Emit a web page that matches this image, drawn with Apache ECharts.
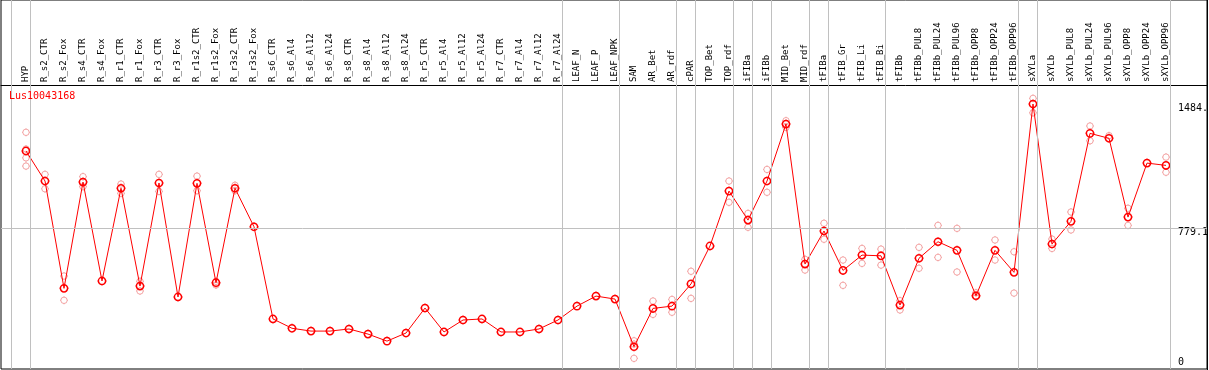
<!DOCTYPE html>
<html>
<head>
<meta charset="utf-8">
<script src="https://cdn.jsdelivr.net/npm/echarts@6/dist/echarts.min.js"></script>
<style>
html,body{margin:0;padding:0;background:#fff;}
#c{width:1209px;height:370px;}
</style>
</head>
<body>
<div id="c"></div>
<script>
const categories = ["HYP","R_s2_CTR","R_s2_Fox","R_s4_CTR","R_s4_Fox","R_r1_CTR","R_r1_Fox","R_r3_CTR","R_r3_Fox","R_r1s2_CTR","R_r1s2_Fox","R_r3s2_CTR","R_r3s2_Fox","R_s6_CTR","R_s6_Al4","R_s6_Al12","R_s6_Al24","R_s8_CTR","R_s8_Al4","R_s8_Al12","R_s8_Al24","R_r5_CTR","R_r5_Al4","R_r5_Al12","R_r5_Al24","R_r7_CTR","R_r7_Al4","R_r7_Al12","R_r7_Al24","LEAF_N","LEAF_P","LEAF_NPK","SAM","AR_Bet","AR_rdf","cPAR","TOP_Bet","TOP_rdf","iFIBa","iFIBb","MID_Bet","MID_rdf","tFIBa","tFIB_Gr","tFIB_Li","tFIB_Bi","tFIBb","tFIBb_PUL8","tFIBb_PUL24","tFIBb_PUL96","tFIBb_OPP8","tFIBb_OPP24","tFIBb_OPP96","sXYLa","sXYLb","sXYLb_PUL8","sXYLb_PUL24","sXYLb_PUL96","sXYLb_OPP8","sXYLb_OPP24","sXYLb_OPP96"];

const means = [1217,1046,436,1040,478,1005,449,1035,387,1033,468,1005,786,262,209,193,193,205,176,136,182,324,188,256,262,188,188,205,256,335,392,375,104,322,335,461,677,989,824,1046,1370,574,762,538,625,621,341,607,701,652,394,652,527,1484,688,817,1317,1289,841,1148,1135];

const replicates = [
  [1323,1228,1178,1131],[1084,1002],[506,368],[1071,1014],[],[1029,976],[476,421],[1084,987],[],[1074,991],
  [476,455],[1022,991],[],[],[],[],[],[],[],[],
  [],[],[],[],[],[],[],[],[],[],
  [],[],[138,119,38],[364,288],[373,300],[533,379],[],[1046,925],[862,783],[1112,982],
  [1389,1351],[601,540],[806,715],[597,453],[663,578],[659,568],[366,313],[669,550],[794,612],[777,529],
  [411,388],[711,597],[644,409],[1516,1434],[716,663],[870,768],[1359,1275],[1304],[891,794],[],
  [1182,1096]
];

const yTicks = [0, 779.1, 1484];
const groupBreaks = [-1, 0, 28, 31, 34, 35, 37, 38, 39, 41, 42, 45, 52, 53, 60];
const title = "Lus10043168";

const FONT = "DejaVu Sans Mono";
const markerPath = 'path://M5,1A4,4,0,1,1,4.999,1ZM5,0L5,1M5,9L5,10M0,5L1,5M9,5L10,5';

const repData = [];
replicates.forEach((arr, i) => arr.forEach(v => repData.push([i, v])));
const meanData = means.map((v, i) => [i, v]);

const chart = echarts.init(document.getElementById('c'), null, {renderer: 'canvas'});
chart.setOption({
  animation: false,
  backgroundColor: '#fff',
  title: {
    text: title, left: 9, top: 91, padding: 0,
    textStyle: {color: '#ff0000', fontSize: 10, fontWeight: 'normal', fontFamily: FONT}
  },
  grid: {left: 1, right: 2, top: 0, bottom: 1, containLabel: false, outerBoundsMode: 'none',
         show: true, borderColor: '#000', borderWidth: 1, backgroundColor: 'transparent'},
  xAxis: {
    type: 'value', position: 'top', offset: -85,
    min: -25/19, max: 1181/19,
    axisLine: {show: true, onZero: false, lineStyle: {color: '#000', width: 1}},
    axisTick: {show: false},
    splitLine: {show: false},
    axisLabel: {
      customValues: categories.map((c, i) => i),
      formatter: v => categories[Math.round(v)] || '',
      rotate: -90, margin: 3, fontSize: 9, fontFamily: FONT, color: '#000'
    }
  },
  yAxis: {
    type: 'value', position: 'right',
    min: -22.5, max: 2075.2,
    axisLine: {show: false}, axisTick: {show: false}, splitLine: {show: false},
    axisLabel: {
      customValues: yTicks,
      inside: true, align: 'left', margin: 29, verticalAlign: 'middle',
      formatter: v => v === 0 ? '{z|0}' : '{n|' + v.toFixed(1) + '}',
      rich: {
        n: {fontSize: 10, fontFamily: FONT, color: '#000', padding: [8, 0, 0, 0]},
        z: {fontSize: 10, fontFamily: FONT, color: '#000', padding: [0, 0, 6, 0]}
      }
    }
  },
  series: [
    {
      type: 'scatter', name: 'replicates', z: 2,
      data: repData,
      symbol: markerPath, symbolSize: 8,
      itemStyle: {color: 'rgba(0,0,0,0)', borderColor: '#f09090', borderWidth: 1},
      markLine: {
        silent: true, symbol: 'none', animation: false,
        label: {show: false},
        lineStyle: {color: '#c0c0c0', width: 1, type: 'solid'},
        emphasis: {disabled: true},
        data: groupBreaks.map(b => ({xAxis: b + 4/19})).concat([{yAxis: yTicks[1]}])
      }
    },
    {
      type: 'line', name: 'means', z: 3,
      data: meanData,
      symbol: markerPath, symbolSize: 9, showAllSymbol: true,
      lineStyle: {color: '#ff0000', width: 1},
      itemStyle: {color: 'rgba(0,0,0,0)', borderColor: '#ff0000', borderWidth: 1.5}
    }
  ],
  graphic: [
    {type: 'rect', z: 100, shape: {x: 1208, y: 0, width: 2, height: 370}, style: {fill: '#fff'}},
    {type: 'line', z: 101, shape: {x1: 1207.5, y1: 0, x2: 1207.5, y2: 370}, style: {stroke: '#000', lineWidth: 1}}
  ]
});
</script>
</body>
</html>
